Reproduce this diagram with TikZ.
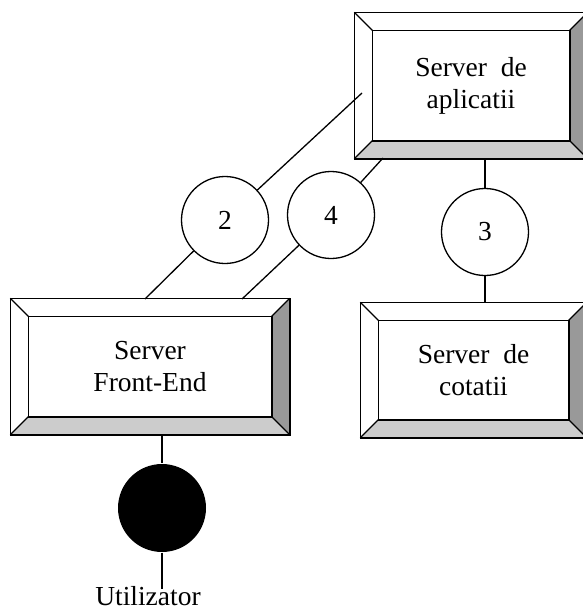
\documentclass[tikz,border=0pt]{standalone}
\usepackage{fontspec}
\setmainfont{Liberation Serif}
\usetikzlibrary{calc}

\definecolor{bevdark}{gray}{0.6}
\definecolor{bevlight}{gray}{0.8}

\tikzset{
  srv/.style={draw=none, align=center, inner sep=0pt},
  circ/.style={circle, draw, fill=white, line width=1.3pt, minimum size=87pt, inner sep=0pt},
  usr/.style={circle, fill=black, minimum size=88pt, inner sep=0pt}
}

\newcommand{\bevel}[1]{%
  \fill[bevdark] (#1.north east) -- (#1.south east) -- ([shift={(-18,-18)}]#1.south east) -- ([shift={(-18,18)}]#1.north east) -- cycle;
  \fill[bevlight] (#1.south west) -- (#1.south east) -- ([shift={(-18,-18)}]#1.south east) -- ([shift={(18,-18)}]#1.south west) -- cycle;
  \draw[line width=1.7pt] (#1.north west) rectangle (#1.south east);
  \draw[line width=1.7pt] ([shift={(18,18)}]#1.north west) rectangle ([shift={(-18,-18)}]#1.south east);
  \draw[line width=1.3pt] (#1.north west) -- ++(18,18);
  \draw[line width=1.3pt] (#1.north east) -- ++(-18,18);
  \draw[line width=1.3pt] (#1.south west) -- ++(18,-18);
  \draw[line width=1.3pt] (#1.south east) -- ++(-18,-18);
}

\begin{document}
\begin{tikzpicture}[x=1pt, y=-1pt, line width=1.3pt]
        \fontsize{27.5}{32}\selectfont
        \useasboundingbox (0,0) rectangle (583,613);

        \node[srv, minimum width=232pt, minimum height=145pt] (app) at (471, 85.5) {Server\ \ de\\aplicatii};
        \node[srv, minimum width=278pt, minimum height=135pt] (fe) at (150, 366.5) {Server\\Front-End};
        \node[srv, minimum width=225pt, minimum height=134pt] (cot) at (473.5, 370) {Server\ \ de\\cotatii};
        \bevel{app}
        \bevel{fe}
        \bevel{cot}

        \coordinate (fe2) at (145, 299);
        \coordinate (fe4) at (242, 299);
        \coordinate (app2) at (362, 93);
        \coordinate (app4) at (383, 158);

        \node[circ] (c2) at (225, 220) {2};
        \node[circ] (c4) at (331, 215) {4};
        \node[circ] (c3) at (485, 232) {3};
        \node[usr] (u) at (162, 508) {};
        \node[inner sep=0pt, anchor=base, text height=15pt, text depth=0pt] (utext) at (148, 605) {Utilizator};

        \draw[-] (fe2) to (c2);
        \draw[-] (c2) to (app2);
        \draw[-] (fe4) to (c4);
        \draw[-] (c4) to (app4);
        \draw[-] (c3 |- app.south) to (c3);
        \draw[-] (c3) to (c3 |- cot.north);
        \draw[-] (u |- fe.south) to (u);
        \draw[-] (u) to (u |- utext.north);
      \end{tikzpicture}
\end{document}
